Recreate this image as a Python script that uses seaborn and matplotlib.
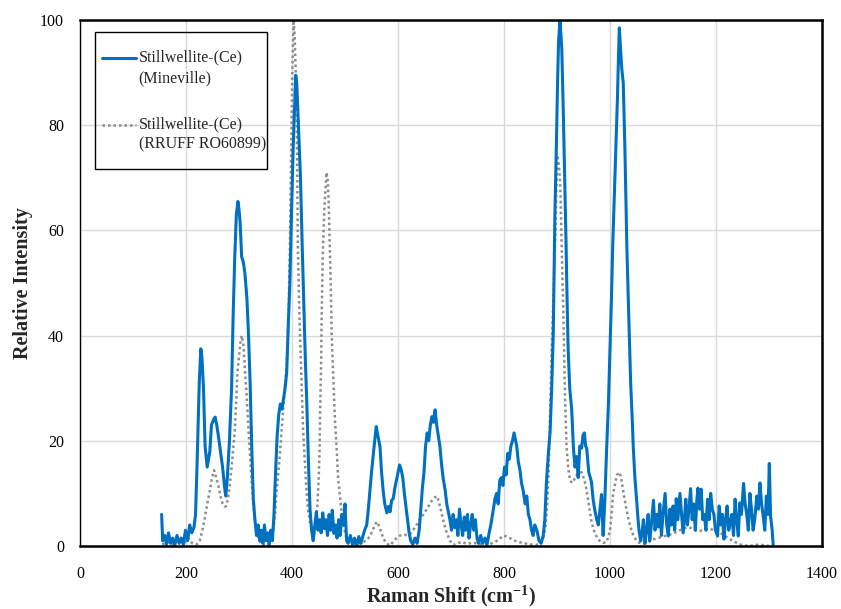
import numpy as np
import pandas as pd
import matplotlib
matplotlib.use("Agg")
import matplotlib.pyplot as plt
from matplotlib.ticker import MultipleLocator
from matplotlib.patches import Rectangle
import seaborn as sns

# ---------------- data ----------------
mineville_shift = [154, 156, 160, 163, 167, 171, 175, 179, 183, 187, 191, 195, 199, 203, 207, 211, 215, 218, 221, 225,
                   228, 230, 233, 236, 240, 245, 248, 252, 255, 258, 261, 265, 269, 273, 275, 278, 282, 286, 289, 292,
                   295, 298, 300, 302, 305, 308, 311, 315, 318, 321, 324, 327, 330, 333, 336, 339, 342, 345, 348, 351,
                   354, 357, 360, 363, 366, 369, 372, 375, 378, 381, 384, 387, 390, 393, 396, 399, 402, 405, 407, 409,
                   411, 413, 416, 419, 422, 425, 428, 431, 434, 437, 440, 443, 446, 449, 452, 455, 458, 461, 464, 467,
                   470, 473, 476, 479, 482, 485, 488, 491, 494, 497, 500, 503, 506, 510, 514, 518, 522, 526, 530, 534,
                   537, 541, 544, 547, 550, 553, 556, 559, 561, 564, 566, 569, 572, 575, 579, 582, 585, 588, 591, 594,
                   597, 600, 603, 606, 609, 612, 615, 618, 621, 624, 628, 632, 636, 640, 643, 646, 649, 652, 655, 658,
                   661, 664, 667, 670, 673, 676, 679, 682, 685, 689, 692, 695, 698, 701, 704, 707, 710, 713, 716, 719,
                   722, 725, 728, 731, 734, 737, 740, 743, 746, 749, 752, 756, 760, 764, 768, 772, 776, 780, 783, 786,
                   789, 792, 795, 798, 801, 804, 807, 810, 813, 816, 819, 821, 824, 827, 830, 833, 836, 840, 843, 846,
                   849, 852, 855, 858, 862, 866, 870, 874, 877, 880, 884, 887, 890, 893, 896, 899, 901, 903, 905.7, 907,
                   909, 912, 915, 917, 919, 921, 924, 927.7, 931, 934, 937, 940, 943, 946.5, 949, 951.6, 954, 956, 960, 965,
                   968, 971, 975, 978, 981, 984, 987, 990, 993.7, 997, 1000, 1003, 1005, 1009, 1011, 1014, 1016, 1017.6, 1019, 1022,
                   1025, 1028, 1030, 1032, 1034.6, 1037, 1039, 1042, 1044, 1047, 1050, 1053, 1055, 1058, 1061, 1063, 1066, 1069, 1072, 1075,
                   1078, 1082, 1085, 1088, 1091, 1094, 1097, 1100, 1104, 1107, 1110, 1113, 1116, 1119, 1122, 1125, 1128, 1132, 1135, 1138,
                   1141, 1143, 1146, 1149, 1152, 1155, 1158, 1161, 1164, 1166, 1169, 1172, 1175, 1178, 1181, 1184, 1187, 1190, 1193, 1196,
                   1199, 1203, 1206, 1209, 1212, 1215, 1218, 1221, 1224, 1227, 1230, 1233, 1236, 1239, 1242, 1245, 1248, 1252, 1255, 1258,
                   1261, 1264, 1267, 1270, 1273, 1277, 1280, 1283, 1286, 1289, 1292, 1295, 1298, 1300.6, 1303, 1306, 1308]
mineville_int = [6.0, 1.0, 2.0, 0.3, 2.5, 0.5, 1.5, 0.2, 2.0, 0.5, 1.5, 0.3, 3.0, 1.0, 4.0, 2.5, 3.5, 6, 16, 31,
                 37.5, 36, 30, 19, 15, 18, 23, 24, 24.5, 23, 21, 18, 15, 11, 9.5, 13, 20, 30, 44, 55,
                 63, 65.5, 64, 61.7, 55, 54, 52, 47, 40, 31, 19, 9, 5, 2, 4, 1, 3, 0.5, 4, 1,
                 2.5, 0.3, 3, 1, 6, 14, 21, 25, 27, 26, 28, 30, 33, 42, 50, 63, 75, 84, 89.5, 88,
                 83, 78, 70, 58, 47, 36, 27, 16, 7, 3, 1, 4, 6.5, 3, 5, 2.5, 6.3, 3.3, 5, 2,
                 6, 3, 6.8, 2.4, 4, 1.5, 5, 2, 6, 4, 8, 1, 0.5, 2, 0.3, 1.5, 0, 1.8, 0.5, 2,
                 3, 4, 7, 10.5, 14, 17, 20, 22.7, 21.5, 20, 18.9, 14, 10.5, 8, 6.3, 7.5, 6.5, 8.7, 9, 11,
                 12.5, 14, 15.4, 14.5, 13, 10, 7.5, 5, 2.5, 1, 0.3, 1.5, 0.5, 3, 7, 11, 14, 19, 21.5, 20,
                 23, 24.6, 23.5, 25.9, 23, 21, 19, 15.7, 13, 10.6, 8, 6.5, 5, 3, 6, 3.5, 5, 2, 7, 4,
                 2, 5.5, 3, 6, 1.5, 4, 6, 3, 5, 1.5, 0.5, 2, 0.5, 1.5, 0.3, 2.5, 4.5, 7, 9, 10,
                 8, 12.5, 13, 11.5, 15, 13.5, 17.6, 16.5, 19, 20, 21.5, 20.5, 19, 16, 14.5, 12, 10.6, 8, 9.5, 6,
                 5, 3, 2, 4, 3, 1, 0.5, 2, 5, 12, 18, 21.7, 30, 40.7, 63, 76.9, 88, 96, 100, 98,
                 94.6, 82, 68, 57.9, 47, 37.6, 30, 26, 18.6, 15, 17, 13, 19, 18.6, 21, 21.5, 19, 18.6, 14, 12.2,
                 9, 7, 5, 4, 7, 9.8, 2, 8, 18.6, 27, 37.6, 48, 56.6, 69.3, 76, 85, 93, 98.5, 96, 91,
                 88, 76, 66, 56, 47, 38, 31, 24, 18.6, 13, 9, 5, 2.7, 1, 3, 5, 0.5, 3, 6, 1,
                 4, 8.7, 3, 6, 3.6, 8, 2, 6, 10, 4, 1.9, 7, 4, 7.6, 3, 9, 5, 10, 6, 2.5,
                 6, 8.9, 4, 7, 10.9, 5, 8, 3, 9, 11, 7, 10.8, 5, 6, 3, 8.9, 5, 10, 7, 6,
                 3, 1.9, 7.6, 4, 6, 1.3, 5, 7.6, 3, 4.4, 6, 2, 8.9, 5, 1.9, 8.2, 6, 11.9, 8, 6,
                 3, 10, 7, 3, 5, 9.5, 7, 12, 8, 5.7, 3, 9.5, 6, 15.7, 5.7, 3, 0]

rruff_shift = [155, 165, 175, 185, 195, 205, 212, 220, 226, 231, 236, 241, 245, 249, 253, 257, 261, 265, 269, 273,
               276, 280, 283, 287, 292, 295, 297, 300, 303, 305, 308, 311, 314.5, 318, 321, 324, 327, 330, 333, 337,
               341, 345, 350, 355, 360, 365, 368, 371, 376, 380.5, 385, 390, 393, 396, 399.4, 401, 403, 405, 407, 409,
               411, 414, 418, 421, 424.5, 427, 430, 434, 437, 441, 445, 448, 450, 452, 453, 455, 456, 458, 461, 465,
               467, 469, 471, 473, 475, 478, 481, 484, 487, 490, 493, 496, 499, 503, 510, 520, 530, 540, 548, 553,
               558, 561, 565, 569, 572, 578, 585, 591, 597, 604, 612, 618, 623, 632, 641, 650, 657, 663, 669, 673,
               677, 682, 687, 692, 698, 704, 712, 720, 730, 740, 750, 760, 770, 780, 790, 799, 805, 811, 820, 830,
               840, 850, 860, 868, 874, 878, 881, 884, 887, 890, 893, 896, 898.5, 900.6, 902, 904, 906, 908, 910, 912,
               915, 918, 921, 924.5, 928, 931, 934, 937, 941, 946.5, 950, 953, 956, 959, 962, 965, 968, 971, 976, 982,
               988, 994, 1000, 1003, 1006, 1010, 1013, 1018, 1021, 1024, 1027, 1030, 1034, 1038, 1042, 1047, 1052, 1058, 1065, 1072,
               1080, 1090, 1100, 1110, 1118, 1128, 1138, 1149, 1160, 1170, 1180, 1189, 1198, 1208, 1217, 1226, 1235, 1245, 1255, 1264,
               1274, 1283, 1292, 1302]
rruff_int = [0.3, 0.8, 0.2, 1.2, 0.4, 1.5, 0.5, 0.3, 1.0, 3, 5.6, 8.5, 10.6, 13, 14.4, 13, 11.5, 9.5, 8.1, 7.5,
             7.6, 9.5, 12, 16, 22, 28, 33, 36, 39, 40, 38.6, 34, 28.4, 22, 17, 12, 8.1, 5, 3, 1.5,
             0.5, 0.2, 0.5, 0.2, 1, 3, 6, 10.6, 16, 22, 28, 34.7, 42, 56.6, 82, 92, 100, 97, 90, 82,
             57, 44, 31, 22, 15.4, 11, 7, 4.5, 3.3, 2, 4, 8, 12, 18, 25, 35, 44, 55, 64, 71,
             70, 66, 58, 50, 40, 32, 24, 19, 13, 10, 7, 5, 3, 1.5, 0.7, 0.4, 0.6, 1.0, 2.0, 3.2,
             4.3, 4.6, 3.5, 2.5, 1.5, 0.5, 0.1, 0.8, 1.5, 2, 2.1, 2.1, 2.3, 3.5, 5, 6.3, 7.5, 8.5, 9.2, 9.5,
             8.5, 6.3, 4.2, 2.5, 1.0, 0.2, 0.5, 0.8, 0.4, 0.6, 0.5, 0.4, 0.3, 0.6, 1.2, 2.0, 1.8, 1.5, 1.0, 0.7,
             0.5, 0.3, 0.2, 0.5, 1.5, 3.5, 7, 13.5, 25, 37.6, 47, 56, 66, 74.3, 73.5, 72, 69, 61, 52, 44.2,
             28.8, 19, 15, 12.5, 12, 12.3, 13, 13.5, 14, 14, 13, 12, 10.5, 8.6, 6.5, 4.7, 3.5, 2.6, 1.5, 0.8,
             0.6, 0.8, 3, 6, 10, 12, 13.5, 14.0, 13, 11, 9.2, 7.5, 5.5, 3.8, 2.5, 1.5, 0.8, 0.5, 0.4, 0.7,
             1.2, 1.5, 1.8, 2.1, 2.3, 2.8, 3.3, 3.6, 3.0, 2.9, 3.1, 3.2, 3.0, 2.5, 1.9, 1.3, 0.8, 0.3, 0.1, 0.0,
             0.2, 0.3, 0.1, 0.0]

series_labels = ["Stillwellite-(Ce)\n(Mineville)", "Stillwellite-(Ce)\n(RRUFF RO60899)"]
x_ticks = [0, 200, 400, 600, 800, 1000, 1200, 1400]
y_ticks = [0, 20, 40, 60, 80, 100]

df_m = pd.DataFrame({"shift": mineville_shift, "intensity": mineville_int})
df_r = pd.DataFrame({"shift": rruff_shift, "intensity": rruff_int})

# ---------------- style ----------------
sns.set_theme(style="white")
plt.rcParams["font.family"] = ["Liberation Serif", "DejaVu Serif"]
plt.rcParams["mathtext.fontset"] = "custom"
plt.rcParams["mathtext.rm"] = "Liberation Serif"
plt.rcParams["mathtext.bf"] = "Liberation Serif:bold"

fig = plt.figure(figsize=(8.41, 6.09), dpi=100)
ax = fig.add_axes([80 / 841, 63 / 609, 742 / 841, 526 / 609])

sns.lineplot(data=df_r, x="shift", y="intensity", ax=ax, color="#8c8c8c",
             linestyle=(0, (1, 1.2)), linewidth=1.8, estimator=None, sort=False,
             label=series_labels[1], zorder=3)
sns.lineplot(data=df_m, x="shift", y="intensity", ax=ax, color="#0070c0",
             linewidth=2.2, estimator=None, sort=False,
             label=series_labels[0], zorder=4)

ax.set_xlim(0, 1400)
ax.set_ylim(0, 100)
ax.set_xticks(x_ticks)
ax.set_yticks(y_ticks)
ax.xaxis.set_minor_locator(MultipleLocator(40))
ax.yaxis.set_minor_locator(MultipleLocator(5))
ax.grid(True, which="major", color="#d9d9d9", linewidth=1.0, zorder=0)
ax.set_axisbelow(True)

ax.tick_params(axis="both", which="major", direction="inout", length=7, width=1.0,
               color="black", labelsize=11.5, labelcolor="black")
ax.tick_params(axis="both", which="minor", direction="in", length=4, width=1.0, color="black")
ax.tick_params(axis="x", which="major", pad=11)
ax.tick_params(axis="y", which="major", pad=8)

for side, sp in ax.spines.items():
    sp.set_color("black")
    sp.set_linewidth(1.0 if side == "left" else 1.8)
    sp.set_zorder(5)

ax.set_xlabel(r"Raman Shift (cm$^{\mathregular{-1}}$)", fontsize=14.5, fontweight="bold", labelpad=1)
ax.set_ylabel("Relative Intensity", fontsize=14.5, fontweight="bold", labelpad=5)

# legend: handles in reference order, handle aligned with the first text line
handles, labels = ax.get_legend_handles_labels()
order = [labels.index(series_labels[0]), labels.index(series_labels[1])]
leg_labels = ["\n" + labels[i] for i in order]
leg = ax.legend([handles[i] for i in order], leg_labels,
                loc="upper left", bbox_to_anchor=((102 - 80) / 742, (546 - 29) / 526),
                borderaxespad=0, frameon=False, fontsize=11.5, handlelength=2.1,
                handletextpad=0.2, labelspacing=0.6, borderpad=0)
for t in leg.get_texts():
    t.set_linespacing(1.38)
ax.add_patch(Rectangle(((95 - 80) / 742, (546 - 169) / 526), 172 / 742, 137 / 526,
                       transform=ax.transAxes, fill=False, edgecolor="black",
                       linewidth=1.0, zorder=6, clip_on=False))

fig.savefig("out.png", dpi=100)
